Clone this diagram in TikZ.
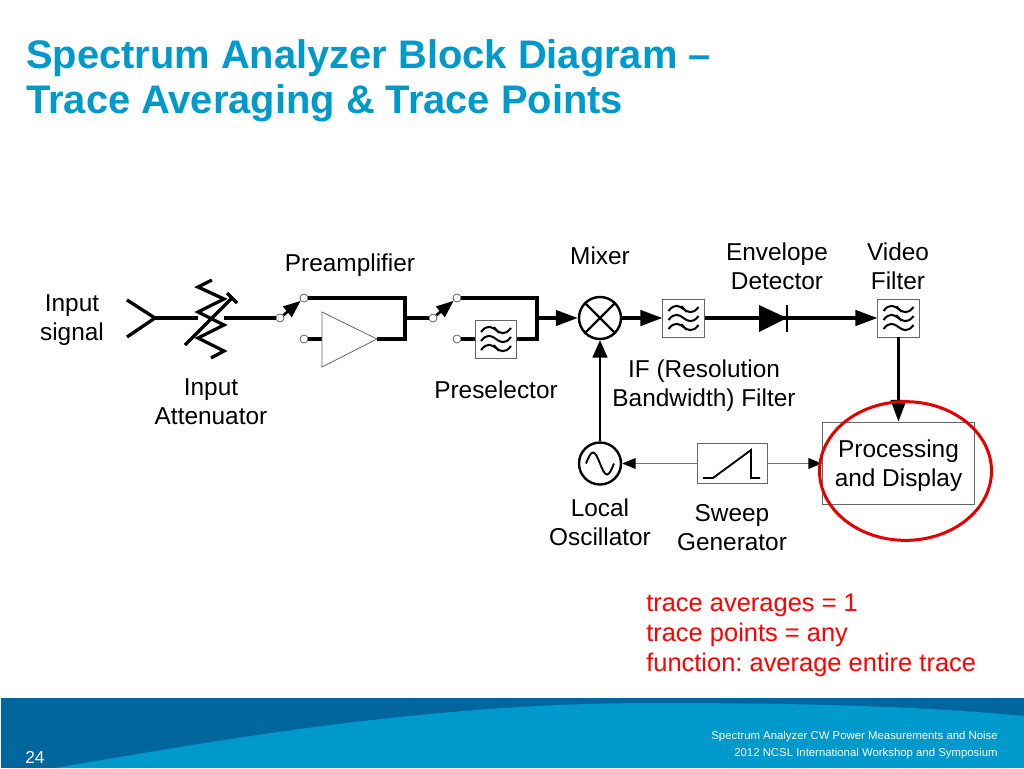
\documentclass[tikz,border=0pt]{standalone}
\usepackage{fontspec}
\setmainfont{Liberation Sans}
\usetikzlibrary{arrows.meta,shapes.geometric}
\definecolor{slideblue}{HTML}{0099CC}
\definecolor{slidedark}{HTML}{00669B}
\newcommand{\filterwaves}{
	\foreach \wavey in {-9,0,9}{
		\draw[line width=1.5pt] (-15,\wavey+2) .. controls (-9,\wavey-6) and (-4,\wavey-3) .. (0,\wavey) .. controls (4,\wavey+3) and (9,\wavey+6) .. (15,\wavey-2);
	}
}
\tikzset{
	wire/.style={line width=2.5pt},
	thinwire/.style={line width=1pt,color=black!55},
	arrowbig/.style={-{Triangle[length=16.5pt,width=11.5pt]}},
	lbl/.style={align=center,inner sep=0pt,font=\fontsize{18.3}{21.75}\selectfont},
	contact/.style={circle,draw=black!70,fill=white,line width=0.5pt,minimum size=6pt,inner sep=0pt},
	filterbox/.style={draw=black!60,fill=white,line width=0.6pt,minimum width=31pt,minimum height=28.5pt,inner sep=0pt},
	roundbox/.style={circle,draw=black,fill=white,line width=1.8pt,minimum size=31.5pt,inner sep=0pt},
	switcharrow/.style={line width=2pt,-{Triangle[length=13pt,width=10pt]}},
	filtericon/.pic={
		\filterwaves
		\draw[line width=1.3pt] (-2,-12)--(3,-6);
		\draw[line width=1.3pt] (-2,6)--(3,12);
	},
	videoicon/.pic={
		\filterwaves
		\draw[line width=1.3pt] (-2,-12)--(3,-6);
		\draw[line width=1.3pt] (-2,-3)--(3,3);
	}
}
\begin{document}
\begin{tikzpicture}[x=0.75pt,y=-0.75pt,>=stealth]
	\useasboundingbox (0,0) rectangle (1024,768);
	\fill[color=slidedark] (1,698) rectangle (1024,768);
	\fill[color=slideblue] (55,768) .. controls (210,742) and (420,703) .. (653,703) .. controls (800,703) and (920,706) .. (1024,716)--(1024,768)--cycle;
	\node[anchor=west,align=left,inner sep=0pt,text=slideblue,font=\fontsize{29.9}{33.75}\selectfont\bfseries] (title) at (26,81) {Spectrum Analyzer Block Diagram --\\Trace Averaging \& Trace Points};
	\node[lbl] (inputlbl) at (72,320) {Input\\signal};
	\node[lbl] (attlbl) at (211,402) {Input\\Attenuator};
	\node[lbl] (prelbl) at (350,265) {Preamplifier};
	\node[lbl] (pselbl) at (496,390) {Preselector};
	\node[lbl] (mixlbl) at (600,256) {Mixer};
	\node[lbl] (iflbl) at (704,386) {IF (Resolution\\Bandwidth) Filter};
	\node[lbl] (envlbl) at (777,266) {Envelope\\Detector};
	\node[lbl] (vidlbl) at (898,266) {Video\\Filter};
	\node[lbl] (osclbl) at (600,522) {Local\\Oscillator};
	\node[lbl] (swplbl) at (732,528) {Sweep\\Generator};
	\node[anchor=west,align=left,inner sep=0pt,text=red,font=\frenchspacing\fontsize{19.1}{22.5}\selectfont] (notelbl) at (646,635) {trace averages = 1\\trace points = any\\function: average entire trace};
	\node[anchor=east,align=right,inner sep=0pt,text=white,font=\fontsize{8.53}{12.75}\selectfont] (footlbl) at (998,745.5) {Spectrum Analyzer CW Power Measurements and Noise\\2012 NCSL International Workshop and Symposium};
	\node[inner sep=0pt,text=white,font=\fontsize{13}{15}\selectfont] (pagelbl) at (35,757) {24};
	\coordinate (feed) at (155,318);
	\coordinate (antup) at (127,300);
	\coordinate (antlow) at (127,337);
	\coordinate (resleft) at (198,318);
	\coordinate (resright) at (224,318);
	\coordinate (varlow) at (185,345);
	\coordinate (varup) at (232,298);
	\coordinate (vartop) at (227,293);
	\coordinate (varbot) at (237,303);
	\draw[wire] (antup)--(feed)--(antlow);
	\draw[wire] (feed)--(resleft);
	\draw[wire] (212,280)--(198,287)--(224,299)--(198,312)--(224,325)--(198,338)--(224,351)--(211,358);
	\draw[wire] (varlow)--(varup);
	\draw[wire] (vartop)--(varbot);
	\node[contact] (swa) at (280,318) {};
	\node[contact] (swaup) at (304,298) {};
	\node[contact] (swalow) at (304,339) {};
	\node[contact] (swb) at (433,318) {};
	\node[contact] (swbup) at (457,298) {};
	\node[contact] (swblow) at (457,339) {};
	\coordinate (joina) at (405,318);
	\coordinate (joinb) at (537,318);
	\coordinate (amptop) at (322,312);
	\coordinate (ampbot) at (322,367);
	\coordinate (amptip) at (377,339);
	\coordinate (ampin) at (322,339);
	\draw[wire] (resright)--(swa);
	\draw[wire] (swaup)-|(joina);
	\draw[wire] (amptip)-|(joina);
	\draw[wire] (swalow)--(ampin);
	\draw[color=black!60,fill=white,line width=0.6pt] (amptop)--(ampbot)--(amptip)--cycle;
	\draw[wire] (joina)--(swb);
	\draw[switcharrow] (swa)--(swaup);
	\draw[switcharrow] (swb)--(swbup);
	\node[filterbox] (pse) at (496,339) {};
	\pic at (pse) {filtericon};
	\draw[wire] (swbup)-|(joinb);
	\draw[wire] (pse)-|(joinb);
	\draw[wire] (swblow)--(pse);
	\node[roundbox] (mixer) at (600,318) {};
	\draw[line width=1.8pt] (mixer.north west)--(mixer.south east);
	\draw[line width=1.8pt] (mixer.north east)--(mixer.south west);
	\draw[wire,arrowbig] (joinb)--(mixer);
	\node[filterbox] (iffilt) at (683.5,318) {};
	\pic at (iffilt) {filtericon};
	\draw[wire,arrowbig] (mixer)--(iffilt);
	\coordinate (diodetop) at (759,305);
	\coordinate (diodelow) at (759,332);
	\coordinate (diodetip) at (787,318);
	\coordinate (bartop) at (787,305);
	\coordinate (barlow) at (787,332);
	\draw[wire] (iffilt)--(diodetip);
	\fill (diodetop)--(diodelow)--(diodetip)--cycle;
	\draw[line width=1.2pt] (bartop)--(barlow);
	\node[filterbox] (vidfilt) at (898.5,318) {};
	\pic at (vidfilt) {videoicon};
	\draw[wire,arrowbig] (diodetip)--(vidfilt);
	\node[draw=black!60,line width=0.6pt,minimum width=114.5pt,minimum height=62pt] (proc) at (898.5,463.5) {};
	\node[lbl] (proclbl) at (898.5,465.5) {Processing\\and Display};
	\draw[wire,arrowbig] (vidfilt)--(proc);
	\node[draw=black!60,fill=white,line width=0.6pt,minimum width=52.5pt,minimum height=30.5pt,inner sep=0pt] (sweep) at (732,463.5) {};
	\draw[line width=1.4pt] (703,478)--(713,478)--(751,450)--(751,478)--(760,478);
	\node[roundbox] (osc) at (600,463.5) {};
	\draw[line width=1.4pt] (586,463.5) sin ++(7,-11) cos ++(7,11) sin ++(7,11) cos ++(7,-11);
	\draw[line width=1.8pt,-{Triangle[length=13pt,width=11pt]}] (osc)--(mixer);
	\draw[thinwire,-{Triangle[length=10pt,width=8pt,color=black]}] (sweep)--(osc);
	\draw[thinwire,-{Triangle[length=10pt,width=8pt,color=black]}] (sweep)--(proc);
	\node[ellipse,draw=red!90!black,line width=2.25pt,minimum width=129pt,minimum height=104pt,inner sep=0pt] (ring) at (905.5,471) {};
\end{tikzpicture}
\end{document}
